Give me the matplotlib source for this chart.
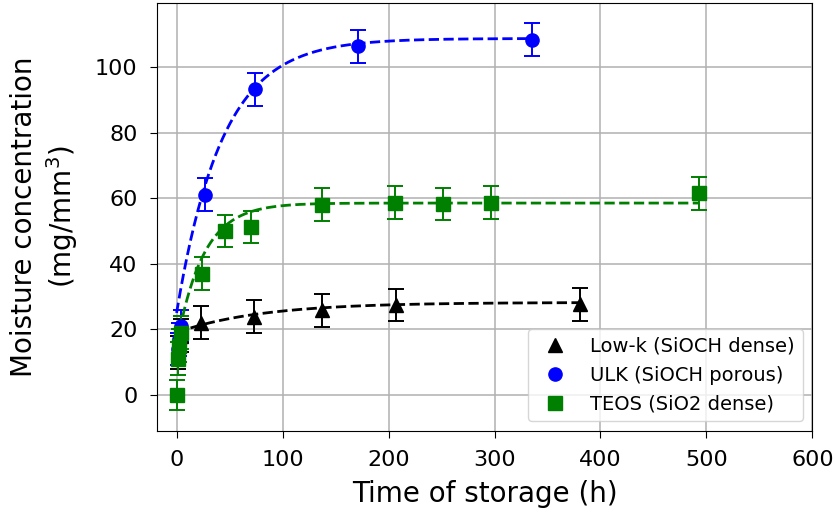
import matplotlib
matplotlib.use("Agg")
import matplotlib.pyplot as plt
import numpy as np

# Low-k (SiOCH dense)
t_lowk = [1, 2, 4, 23, 73, 137, 207, 381]
y_lowk = [13, 15, 18, 22, 23.8, 25.8, 27.4, 27.6]
e_lowk = [5, 5, 5, 5, 5, 5, 5, 5]

# ULK (SiOCH porous)
t_ulk = [1, 2, 4, 27, 74, 171, 335]
y_ulk = [14, 17, 21, 61, 93.2, 106.3, 108.3]
e_ulk = [5, 5, 5, 5, 5, 5, 5]

# TEOS (SiO2 dense)
t_teos = [0, 1, 2, 4, 24, 46, 70, 137, 206, 251, 297, 493]
y_teos = [0, 11, 15, 19, 37, 50, 51.2, 58, 58.6, 58.2, 58.6, 61.5]
e_teos = [4.5, 5, 5, 5, 5, 5, 5, 5, 5, 5, 5, 5]

# fitted saturation curves: plateau, start value, time constant, end time
fit_lowk = (28.2, 19, 80, 381)
fit_ulk = (108.7, 25, 43, 335)
fit_teos = (58.5, 15, 25, 493)


def fit_curve(params):
    a, y0, tau, tend = params
    t = np.linspace(0, tend, 400)
    return t, a - (a - y0) * np.exp(-t / tau)


fig = plt.figure(figsize=(8.35, 5.13), dpi=100)
ax = fig.add_axes([0.188, 0.16, 0.785, 0.834])

series = [
    (t_lowk, y_lowk, e_lowk, fit_lowk, "black", "^", "Low-k (SiOCH dense)"),
    (t_ulk, y_ulk, e_ulk, fit_ulk, "blue", "o", "ULK (SiOCH porous)"),
    (t_teos, y_teos, e_teos, fit_teos, "green", "s", "TEOS (SiO2 dense)"),
]

for t, y, e, fit, col, mk, lab in series:
    tf, yf = fit_curve(fit)
    ax.plot(tf, yf, "--", color=col, lw=2)
    ax.errorbar(t, y, yerr=e, fmt="none", ecolor=col, capsize=5.5, elinewidth=1.4,
                capthick=1.4)
    ax.plot(t, y, mk, color=col, markersize=9.5, label=lab, zorder=3)

ax.set_xlim(-18.5, 600)
ax.set_ylim(-11, 119.5)
ax.set_xticks([0, 100, 200, 300, 400, 500, 600])
ax.set_yticks([0, 20, 40, 60, 80, 100])
ax.tick_params(labelsize=16, length=5, pad=9)
ax.grid(True, color="#b0b0b0", lw=1.1)
ax.set_axisbelow(True)

ax.set_xlabel("Time of storage (h)", fontsize=20, labelpad=7)
ax.set_ylabel("Moisture concentration\n(mg/mm$^3$)", fontsize=20, labelpad=11)

ax.legend(loc="lower right", fontsize=14)

fig.savefig("out.png", dpi=100)
